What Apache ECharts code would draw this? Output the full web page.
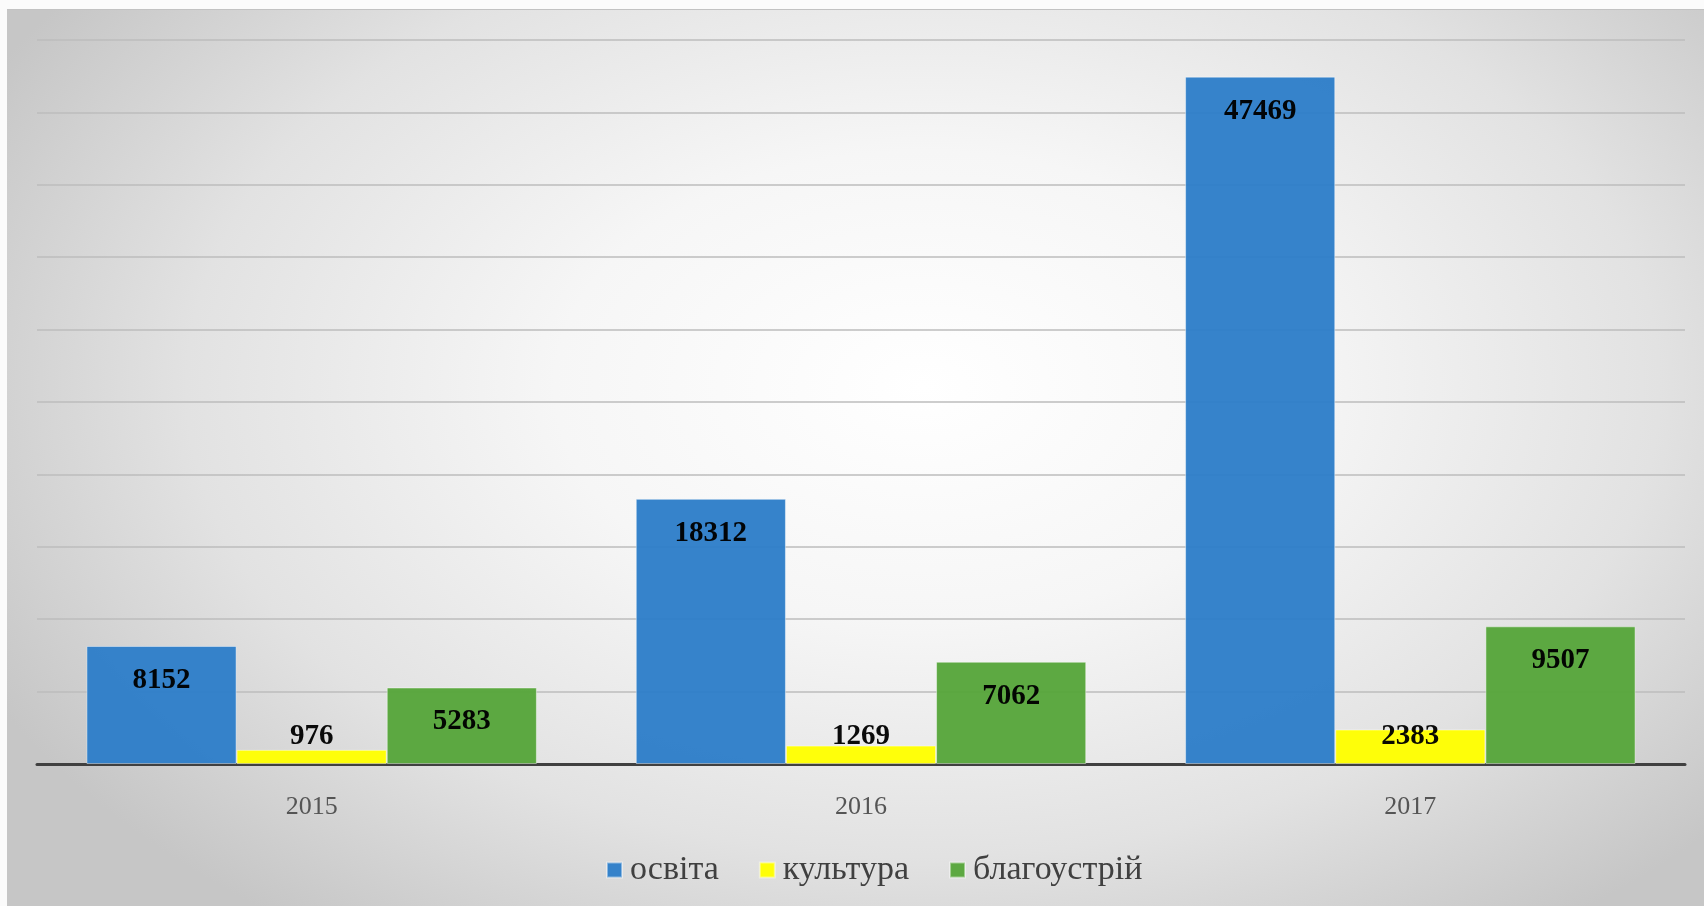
<!DOCTYPE html>
<html>
<head>
<meta charset="utf-8">
<script src="https://cdn.jsdelivr.net/npm/echarts@6/dist/echarts.min.js"></script>
<style>
  html, body { margin: 0; padding: 0; background: #fbfbfb; }
  #main {
    position: absolute; left: 7px; top: 9px; width: 1697px; height: 897px;
    border-top: 1px solid #c2c2c2; box-sizing: border-box;
    background: radial-gradient(ellipse 62% 75% at 54% 42%, #ffffff 0%, #f6f6f6 35%, #e2e2e2 70%, #c6c6c6 100%);
  }
</style>
</head>
<body>
<div id="main"></div>
<script>
// дані з діаграми
const years = ['2015', '2016', '2017'];
const osvita = [8152, 18312, 47469];
const kultura = [976, 1269, 2383];
const blagoustriy = [5283, 7062, 9507];

const seriesNames = ['освіта', 'культура', 'благоустрій'];
const seriesColors = ['#2e7ec9', '#ffff00', '#56a63a'];

// короткі стовпчики: підпис ставимо над основою, як в Excel
function toItems(values) {
    return values.map(v => {
        if (v < 4000) {
            return { value: v, label: { position: 'insideBottom', distance: 13 } };
        }
        return v;
    });
}

const chart = echarts.init(document.getElementById('main'));

chart.setOption({
    backgroundColor: 'transparent',
    animation: false,
    grid: { left: 30, right: 19, top: 30, bottom: 142 },
    legend: {
        bottom: 14,
        left: 594,
        itemWidth: 15,
        itemHeight: 15,
        itemGap: 40,
        icon: 'rect',
        textStyle: { fontFamily: 'Liberation Serif', fontSize: 34, color: '#404040', padding: [0, 0, 0, 3] },
        data: seriesNames
    },
    xAxis: {
        type: 'category',
        data: years,
        axisLine: { lineStyle: { color: '#404040', width: 3 } },
        axisTick: { show: false },
        axisLabel: {
            margin: 30,
            fontFamily: 'Liberation Serif',
            fontSize: 26,
            color: '#555555'
        }
    },
    yAxis: {
        type: 'value',
        min: 0,
        max: 50000,
        interval: 5000,
        axisLabel: { show: false },
        axisLine: { show: false },
        axisTick: { show: false },
        splitLine: { lineStyle: { color: '#bdbdbd', width: 1.5 } }
    },
    series: [osvita, kultura, blagoustriy].map((vals, i) => ({
        name: seriesNames[i],
        type: 'bar',
        barGap: '0%',
        barCategoryGap: '18%',
        data: toItems(vals),
        itemStyle: {
            color: seriesColors[i],
            opacity: 0.96,
            borderColor: 'rgba(255,255,255,0.45)',
            borderWidth: 1
        },
        label: {
            show: true,
            position: 'insideTop',
            distance: 20,
            fontFamily: 'Liberation Serif',
            fontWeight: 'bold',
            fontSize: 29,
            color: '#000000'
        }
    }))
});
</script>
</body>
</html>
